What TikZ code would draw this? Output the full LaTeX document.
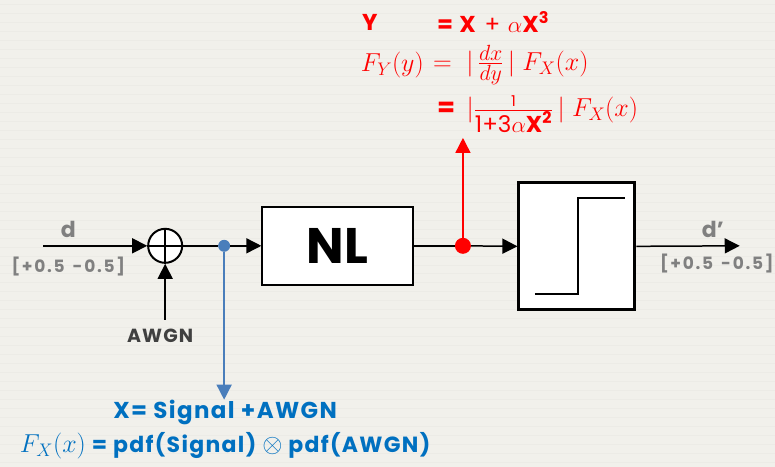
\RequirePackage{fix-cm}
\documentclass[tikz,border=0pt]{standalone}
\usepackage{amsmath}
\usepackage{fontspec}
\setmainfont{Poppins}
\newfontfamily\lsA{Poppins}[LetterSpace=6]
\newfontfamily\lsB{Poppins}[LetterSpace=10]
\usetikzlibrary{arrows.meta}
\definecolor{bg}{HTML}{F1F0EB}
\definecolor{bgline}{HTML}{ECEBE6}
\definecolor{myblue}{HTML}{4A7EBB}
\definecolor{txtblue}{HTML}{0070C0}
\definecolor{mygray}{HTML}{808080}
\definecolor{dgray}{HTML}{404040}
\newcommand{\fsz}[1]{\fontsize{#1}{#1}\selectfont}
\tikzset{
  conn/.style={line width=1.5pt},
  arr/.style={conn,-{Triangle[length=15pt,width=15pt]}},
  blockbox/.style={draw,fill=white,line width=1.5pt,inner sep=0pt},
  grayt/.style={text=mygray,inner sep=0pt,font=\lsB\bfseries\fsz{17}},
  redt/.style={text=red,inner sep=0pt},
  bluet/.style={text=txtblue,inner sep=0pt},
}
\begin{document}
\begin{tikzpicture}[x=1pt,y=-1pt]
\fill[bg] (0,0) rectangle (775,467);
\foreach \yy in {4,13,...,467} \draw[bgline,line width=0.6pt] (0,\yy) -- (775,\yy);
\useasboundingbox (0,0) rectangle (775,467);

% adder
\node[circle,draw,fill=white,minimum size=34pt,inner sep=0pt,line width=2pt] (sum) at (165,246) {};
\draw[line width=1.5pt] (sum.north) -- (sum.south) (sum.west) -- (sum.east);
\coordinate (din) at (43,246);
\draw[arr] (din) -- (sum.west);
\coordinate (awgn) at (165,320);
\draw[arr] (awgn) -- (sum.south);
\node[text=dgray,inner sep=0pt,font=\lsA\bfseries\fsz{19}] (awgnl) at (160,336) {AWGN};

% NL block
\node[blockbox,minimum width=151pt,minimum height=78pt,font=\bfseries\fsz{50}] (nl) at (337.5,246) {NL};
\node[circle,fill=myblue,minimum size=12pt,inner sep=0pt] (bdot) at (224,246) {};
\draw[conn] (sum.east) -- (bdot);
\draw[arr] (bdot) -- (nl.west);

% red tap
\node[circle,fill=red,minimum size=16pt,inner sep=0pt] (rdot) at (463,246) {};
\draw[conn] (nl.east) -- (rdot);
\coordinate (rtop) at (463,138);
\draw[arr,red] (rdot) -- (rtop);

% decision block
\node[blockbox,line width=3pt,minimum width=116pt,minimum height=127pt] (dec) at (577,246.5) {};
\draw[conn] (535,294) -- (578,294) -- (578,198) -- (625,198);
\draw[arr] (rdot) -- (dec.west);
\coordinate (dout) at (740,246);
\draw[arr] (dec.east) -- (dout);

% blue tap
\coordinate (bbot) at (224,400);
\draw[arr,myblue] (bdot) -- (bbot);

% gray labels
\node[grayt,font=\bfseries\fsz{22}] (dl) at (68,230) {d};
\node[grayt] (dr) at (68,267) {[+0.5 \,-0.5]};
\node[grayt,font=\bfseries\fsz{22}] (dpl) at (713,230) {d’};
\node[grayt] (dpr) at (717,264) {[+0.5 \,-0.5]};

% red equations
\node[redt,font=\bfseries\fsz{23},anchor=west] (y1a) at (362,22) {Y};
\node[redt,font=\lsA\fsz{23},anchor=west] (y1b) at (437,22) {\textbf{= X} + $\alpha$\textbf{X\textsuperscript{3}}};
\node[redt,font=\fsz{26},anchor=east] (y2a) at (424,65) {$F_Y(y)$};
\node[redt,font=\fsz{26},anchor=west] (y2b) at (433,65) {$=\;|\,\frac{\text{\fsz{22}$dx$}}{\text{\fsz{22}$dy$}}\,|\;F_X(x)$};
\node[redt,font=\fsz{26},anchor=west] (y3) at (437,114) {\textbf{=}\, $|\frac{\text{\fsz{15}1}}{\text{\fsz{23}1+3$\alpha$\textbf{X\textsuperscript{2}}}}\,|\;F_X(x)$};

% blue equations
\node[bluet,font=\lsA\bfseries\fsz{23}] (b1) at (225,413) {X= Signal +AWGN};
\node[bluet,font=\lsA\bfseries\fsz{22}] (b2) at (225,446) {\fsz{26}$F_X(x)$\fsz{22} = pdf(Signal) \fsz{26}$\otimes$\fsz{22} pdf(AWGN)};
\end{tikzpicture}
\end{document}
